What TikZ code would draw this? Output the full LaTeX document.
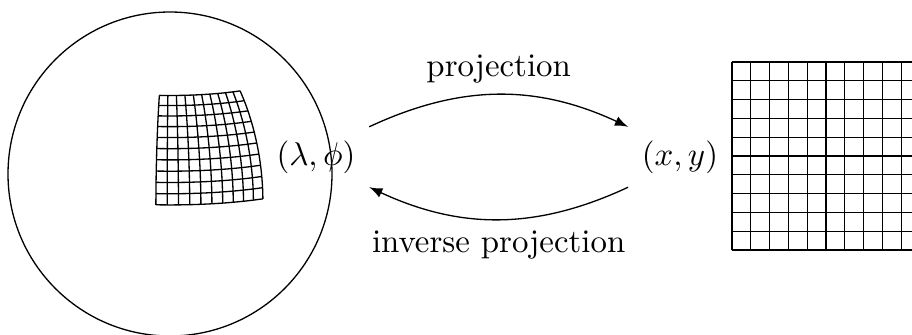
\documentclass[tikz,border=0pt]{standalone}
\usetikzlibrary{arrows.meta}
\begin{document}
\begin{tikzpicture}[>=latex, x=0.0107cm, y=0.0107cm,
    coord/.style={inner sep=4pt},
    gridline/.style={line width=0.4pt}]
    \clip (0,0) rectangle (912,334);
    % the globe with a patch of the graticule
    \draw (170,160) circle (162);
    \foreach \p in {1,5,...,41}
        \draw[gridline] plot[domain=-5:35, samples=11, smooth]
            ({170+162*cos(\p)*sin(\x)}, {160+162*(0.978*sin(\p)-0.208*cos(\p)*cos(\x))});
    \foreach \l in {-5,-1,...,35}
        \draw[gridline] plot[domain=1:41, samples=11, smooth]
            ({170+162*cos(\x)*sin(\l)}, {160+162*(0.978*sin(\x)-0.208*cos(\x)*cos(\l))});
    % the plane grid
    \foreach \i in {0,...,10} {
        \draw[gridline] (732+18.8*\i, 84) -- (732+18.8*\i, 272);
        \draw[gridline] (732, 84+18.8*\i) -- (920, 84+18.8*\i);
    }
    % coordinates
    \node[coord] (lam) at (316,177) {$(\lambda,\phi)$};
    \node[coord] (xy) at (680,177) {$(x,y)$};
    % arrows
    \draw[->] (lam.north east) to[bend left=25] node[above] {projection} (xy.north west);
    \draw[->] (xy.south west) to[bend left=25] node[below] {inverse projection} (lam.south east);
\end{tikzpicture}
\end{document}
